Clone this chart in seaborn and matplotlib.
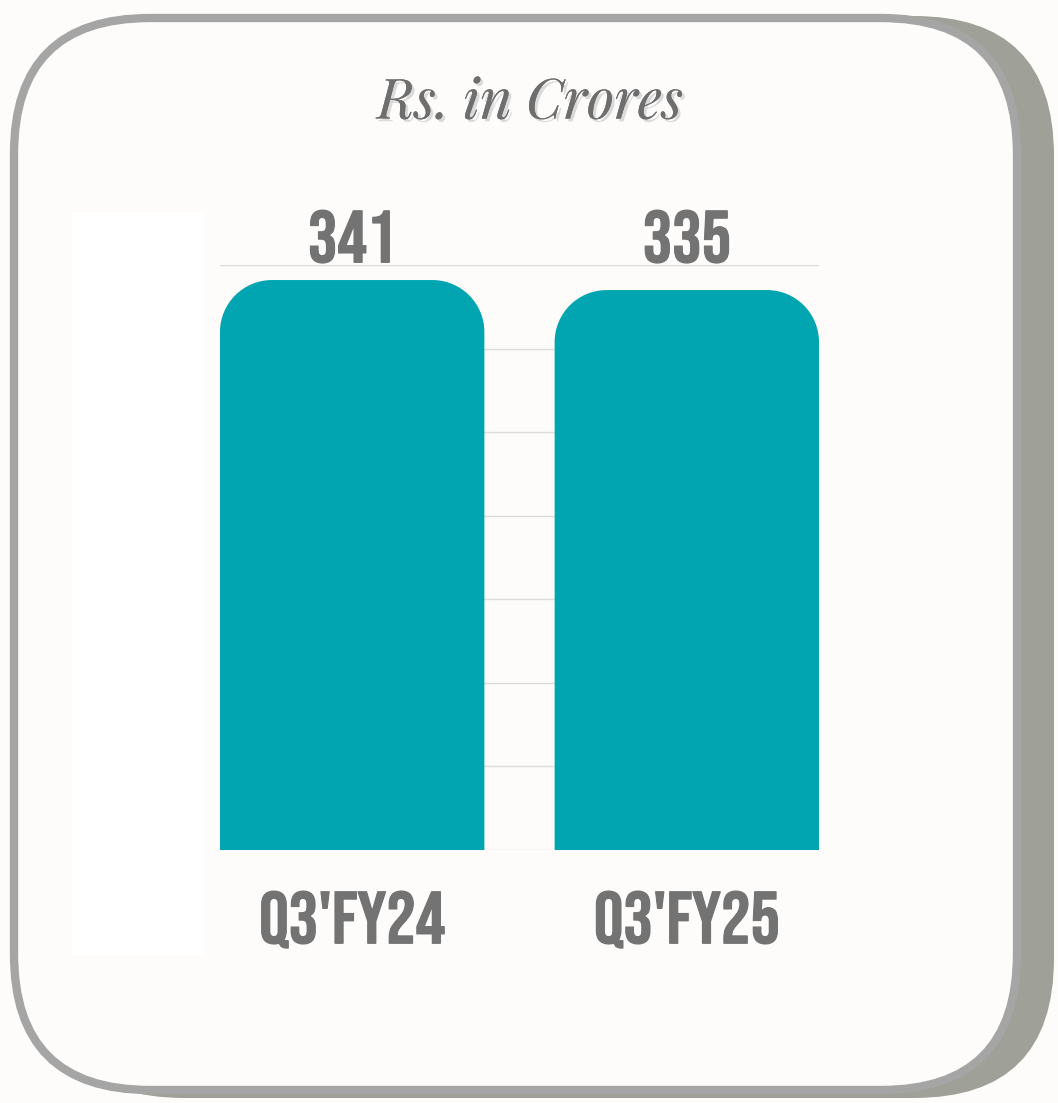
import matplotlib
matplotlib.use("Agg")
import matplotlib.pyplot as plt
import matplotlib.patheffects as pe
from matplotlib.patches import FancyBboxPatch, PathPatch, Rectangle
from matplotlib.path import Path
import seaborn as sns

# data
categories = ["Q3'FY24", "Q3'FY25"]
values = [341, 335]
value_labels = ["341", "335"]
title = "Rs. in Crores"

TEAL = "#00A5B1"
GREY_TEXT = "#737373"
BG = "#FDFCFA"
W, H = 1058, 1103

sns.set_theme(style="white")
plt.rcParams["font.family"] = ["Bebas Neue", "DejaVu Sans"]

fig = plt.figure(figsize=(W / 100, H / 100), dpi=100, facecolor=BG)

# card background, drawn in pixel coordinates
bg = fig.add_axes([0, 0, 1, 1], zorder=0)
bg.set_xlim(0, W)
bg.set_ylim(H, 0)
bg.axis("off")
bg.add_patch(FancyBboxPatch((44, 16), 1010, 1082,
                            boxstyle="round,pad=0,rounding_size=140",
                            fc="#9FA097", ec="none"))
bg.add_patch(FancyBboxPatch((14, 18), 1003, 1072,
                            boxstyle="round,pad=0,rounding_size=136",
                            fc=BG, ec="#A5A5A5", lw=6))
bg.add_patch(Rectangle((72, 212), 132, 743, fc="white", ec="none"))
bg.text(530, 102, title, ha="center", va="center", fontsize=40,
        family=["Playfair Display", "Liberation Serif"], style="italic", color="#6E6E6E",
        path_effects=[pe.withSimplePatchShadow(offset=(2, -2), shadow_rgbFace="#DADADA", alpha=1),
                      pe.Normal()])

bold = [pe.withStroke(linewidth=0.8, foreground=GREY_TEXT)]

# chart area
ax = fig.add_axes([220 / W, (H - 850) / H, (819 - 220) / W, (850 - 265) / H], zorder=1)
ax.patch.set_alpha(0)
width = 0.79
sns.barplot(x=categories, y=values, color=TEAL, saturation=1, width=width, ax=ax, zorder=2)
ax.set_xlim(-width / 2, 1 + width / 2)
ax.set_ylim(0, 350)
ax.set_yticks(range(0, 351, 50))
ax.yaxis.grid(True, color="#DCDCDC", lw=1, zorder=0)
ax.set_axisbelow(True)
ax.tick_params(left=False, labelleft=False, bottom=False, pad=23)
for s in ax.spines.values():
    s.set_visible(False)
ax.set_xlabel("")
ax.set_ylabel("")
ax.set_xticks(range(len(categories)))
ax.set_xticklabels(categories, fontsize=53, color=GREY_TEXT)
for t in ax.get_xticklabels():
    t.set_path_effects(bold)

# rounded top corners (radius in pixels, converted to data units)
r_px = 52
p0 = ax.transData.transform((0, 0))
p1 = ax.transData.transform((1, 1))
rx = r_px / (p1[0] - p0[0])
ry = r_px / (p1[1] - p0[1])
k = 0.5523
for bar, lab in zip(list(ax.patches), value_labels):
    x0 = bar.get_x()
    x1 = x0 + bar.get_width()
    h = bar.get_height()
    bar.set_visible(False)
    verts = [(x0, 0), (x0, h - ry),
             (x0, h - ry + k * ry), (x0 + rx - k * rx, h), (x0 + rx, h),
             (x1 - rx, h),
             (x1 - rx + k * rx, h), (x1, h - ry + k * ry), (x1, h - ry),
             (x1, 0), (x0, 0)]
    codes = [Path.MOVETO, Path.LINETO,
             Path.CURVE4, Path.CURVE4, Path.CURVE4,
             Path.LINETO,
             Path.CURVE4, Path.CURVE4, Path.CURVE4,
             Path.LINETO, Path.CLOSEPOLY]
    ax.add_patch(PathPatch(Path(verts, codes), fc=TEAL, ec="none", zorder=3))
    ax.text(x0 + bar.get_width() / 2, 351, lab, ha="center", va="bottom",
            fontsize=53, color=GREY_TEXT, clip_on=False, path_effects=bold)

fig.savefig("out.png", dpi=100, facecolor=BG)
